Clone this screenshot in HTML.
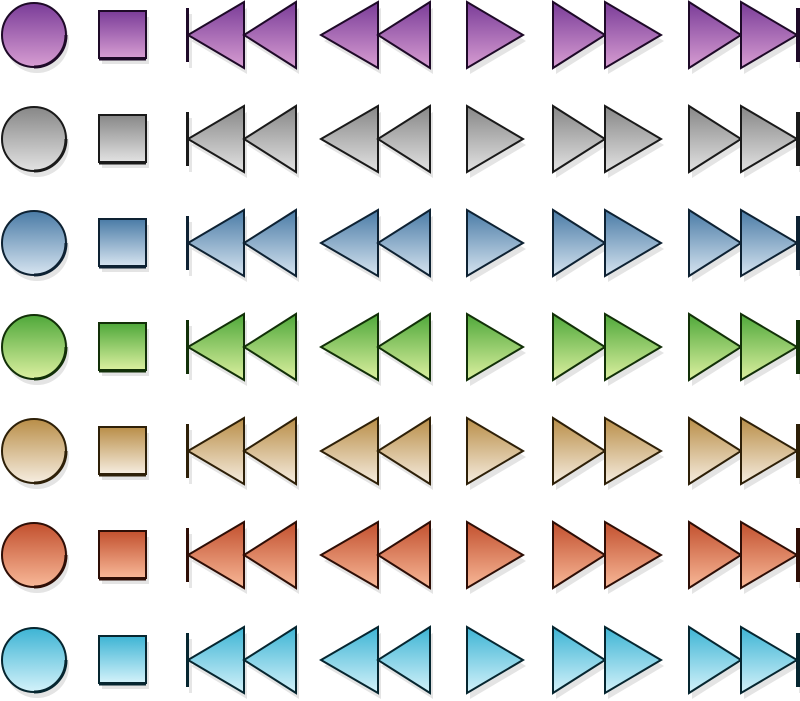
<!DOCTYPE html>
<html><head><meta charset="utf-8">
<style>
html,body{margin:0;padding:0;background:#fff;}
svg{display:block;}
</style></head>
<body>
<svg id="grid" width="800" height="701" viewBox="0 0 800 701" xmlns="http://www.w3.org/2000/svg">
<defs id="defs"></defs>
</svg>
<script>
const rowNames = ["purple","gray","blue","green","tan","red","cyan"];
const topColors = ["#7a3c98","#878787","#4a7ba6","#4fa83a","#b98e48","#c2502e","#3db4d4"];
const bottomColors = ["#d79dd2","#e2e2e2","#d6e4f0","#dcf0a0","#f6ede0","#f8b898","#d4f2fa"];
const strokeColors = ["#1e0a28","#1a1a1a","#0e2233","#123008","#2e2008","#2e0e06","#062630"];
const rowCenters = [35,139,243,347,451,555,660];

const svg = document.getElementById('grid');
const defs = document.getElementById('defs');
const NS = "http://www.w3.org/2000/svg";
function mk(tag, attrs, parent){
  const e = document.createElementNS(NS, tag);
  for (const k in attrs) e.setAttribute(k, attrs[k]);
  (parent||svg).appendChild(e);
  return e;
}
function tri(x1,x2,cy,h){ // x1 = tip side if pointing, returns points
  return `${x1},${cy} ${x2},${cy-h} ${x2},${cy+h}`;
}
rowNames.forEach((name,i)=>{
  const cy = rowCenters[i];
  const g = mk('linearGradient',{id:'g'+i,x1:0,y1:0,x2:0,y2:1},defs);
  mk('stop',{offset:'0',  'stop-color':topColors[i]},g);
  mk('stop',{offset:'1','stop-color':bottomColors[i]},g);
  const row = mk('g',{});
  
  
  const fill='url(#g'+i+')', st=strokeColors[i];
  const h=33;
  const shapes = [];
  function group(label, draw){
    const el = mk('g',{},row);
    
    
    // shadow
    const sh = mk('g',{transform:'translate(3,6)',fill:'#e6e6e6',stroke:'none'},el);
    draw(sh,'#e4e4e4',null);
    draw(el,fill,st);
  }
  function poly(p,pts,f,s){ const a={points:pts,fill:f}; if(s){a.stroke=s;a['stroke-width']=2;a['stroke-linejoin']='miter';} else {a.stroke='none';} mk('polygon',a,p); }
  group('record',(p,f,s)=>{ const a={cx:34,cy:cy,r:32,fill:f}; if(s){a.stroke=s;a['stroke-width']=2;} mk('circle',a,p);
    if(s) mk('path',{d:`M ${34+32} ${cy} A 32 32 0 0 1 ${34} ${cy+32}`,fill:'none',stroke:s,'stroke-width':3},p); });
  group('stop',(p,f,s)=>{ const a={x:99,y:cy-24,width:47,height:47,fill:f}; if(s){a.stroke=s;a['stroke-width']=2;} mk('rect',a,p);
    if(s) mk('line',{x1:99,y1:cy+24,x2:146,y2:cy+24,stroke:s,'stroke-width':3},p); });
  group('skip-back',(p,f,s)=>{ if(s) mk('rect',{x:186,y:cy-27,width:3,height:54,fill:s},p); else mk('rect',{x:186,y:cy-27,width:3,height:54},p);
    poly(p,tri(188,244,cy,h),f,s); poly(p,tri(244,296,cy,h),f,s); });
  group('rewind',(p,f,s)=>{ poly(p,tri(321,378,cy,h),f,s); poly(p,tri(378,430,cy,h),f,s); });
  group('play',(p,f,s)=>{ poly(p,tri(523,467,cy,h),f,s); });
  group('fast-forward',(p,f,s)=>{ poly(p,tri(605,553,cy,h),f,s); poly(p,tri(661,605,cy,h),f,s); });
  group('skip-forward',(p,f,s)=>{ poly(p,tri(741,689,cy,h),f,s); poly(p,tri(797,741,cy,h),f,s);
    if(s) mk('rect',{x:796,y:cy-27,width:4,height:54,fill:s},p); else mk('rect',{x:796,y:cy-27,width:4,height:54},p); });
});
</script>
</body></html>
